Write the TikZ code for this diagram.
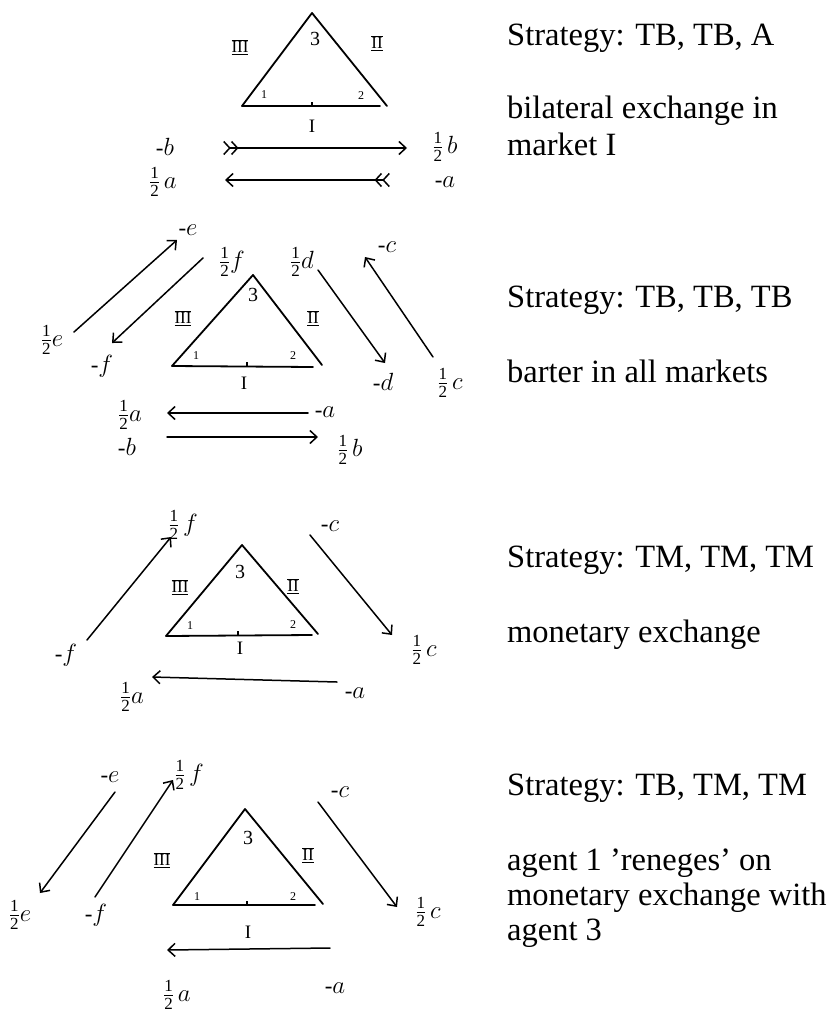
\documentclass[tikz,border=0pt]{standalone}
\usepackage{fontspec}
\setmainfont{Liberation Serif}
\usetikzlibrary{arrows.meta}
\newcommand\halfh{$\frac{\mbox{\fontsize{17}{17}\selectfont 1}}{\mbox{\fontsize{17}{17}\selectfont 2}}$}
\begin{document}
\begin{tikzpicture}[x=1pt,y=-1pt,
  tri/.style={line width=1.8pt, line join=round, line cap=round},
  tickmark/.style={line width=1.4pt},
  arr/.style={line width=1.5pt, line cap=round, -{Straight Barb[length=7pt,width=13pt]}},
  darr/.style={line width=1.5pt, line cap=round,
     {Straight Barb[reversed,length=6pt,width=13pt] Straight Barb[reversed,length=6pt,width=13pt]}-{Straight Barb[length=7pt,width=13pt]}},
  lab/.style={font=\fontsize{23}{25}\selectfont, inner sep=0pt},
  num/.style={font=\fontsize{20}{22}\selectfont, inner sep=0pt},
  sm/.style={font=\fontsize{12}{13}\selectfont, inner sep=0pt},
  rom/.style={font=\fontsize{17}{18}\selectfont, inner sep=0pt},
  bas/.style={font=\fontsize{19}{20}\selectfont, inner sep=0pt},
  txt/.style={font=\fontsize{32.5}{36}\selectfont, anchor=base west, inner sep=0pt}
]
\useasboundingbox (0,0) rectangle (833,1017);

% ---------------- Diagram 1 ----------------
\coordinate (t1a) at (312,13);
\coordinate (t1l) at (242,106);
\coordinate (t1r) at (387,106);
\coordinate (t1b) at (380,106);
\coordinate (t1m) at (312,106);
\draw[tri] (t1l) -- (t1a) -- (t1r);
\draw[tri] (t1l) -- (t1b);
\draw[tickmark] (t1m) -- ++(0,-4);
\node[num] (d1n3) at (315,39) {3};
\node[rom] (d1r3) at (240,47) {$\overline{\underline{\mathrm{III}}}$};
\node[rom] (d1r2) at (377,43) {$\overline{\underline{\mathrm{II}}}$};
\node[sm] (d1n1) at (264,95) {1};
\node[sm] (d1n2) at (361,96) {2};
\node[bas] (d1r1) at (312,126) {I};
\node[lab] (d1mb) at (165,147) {-$b$};
\node[lab] (d1hb) at (445,147) {\halfh\,$b$};
\node[lab] (d1ha) at (163,182) {\halfh\,$a$};
\node[lab] (d1ma) at (445,182) {-$a$};
\coordinate (d1p1) at (223,148);
\coordinate (d1q1) at (407,148);
\coordinate (d1p2) at (390,180);
\coordinate (d1q2) at (225,180);
\draw[darr] (d1p1) -- (d1q1);
\draw[darr] (d1p2) -- (d1q2);

\node[txt] (s1) at (507,45) {Strategy: TB, TB, A};
\node[txt] (s1b) at (507,118) {bilateral exchange in};
\node[txt] (s1c) at (507,155) {market I};

% ---------------- Diagram 2 ----------------
\coordinate (t2a) at (253,275);
\coordinate (t2l) at (172,366);
\coordinate (t2r) at (322,365);
\coordinate (t2b) at (313,367);
\coordinate (t2m) at (247,366);
\draw[tri] (t2l) -- (t2a) -- (t2r);
\draw[tri] (t2l) -- (t2b);
\draw[tickmark] (t2m) -- ++(0,-4);
\node[num] (d2n3) at (253,295) {3};
\node[rom] (d2r3) at (183,318) {$\overline{\underline{\mathrm{III}}}$};
\node[rom] (d2r2) at (313,318) {$\overline{\underline{\mathrm{II}}}$};
\node[sm] (d2n1) at (196,356) {1};
\node[sm] (d2n2) at (293,356) {2};
\node[bas] (d2r1) at (244,383) {I};

\node[lab] (d2he) at (52,340) {\halfh$e$};
\node[lab] (d2me) at (188,230) {-$e$};
\node[lab] (d2hf) at (232,262) {\halfh$f$};
\node[lab] (d2mf) at (102,366) {-$f$};
\node[lab] (d2hd) at (302,262) {\halfh$d$};
\node[lab] (d2md) at (383,382) {-$d$};
\node[lab] (d2hc) at (450,383) {\halfh\,$c$};
\node[lab] (d2mc) at (387,247) {-$c$};
\node[lab] (d2ha) at (130,415) {\halfh$a$};
\node[lab] (d2ma) at (325,412) {-$a$};
\node[lab] (d2mb) at (127,447) {-$b$};
\node[lab] (d2hb) at (350,450) {\halfh\,$b$};
\coordinate (d2e1) at (74,332);  \coordinate (d2e2) at (177,240);
\coordinate (d2f1) at (203,258); \coordinate (d2f2) at (112,343);
\coordinate (d2d1) at (318,270); \coordinate (d2d2) at (385,363);
\coordinate (d2c1) at (433,357); \coordinate (d2c2) at (365,257);
\coordinate (d2a1) at (308,413); \coordinate (d2a2) at (167,413);
\coordinate (d2b1) at (167,437); \coordinate (d2b2) at (318,437);
\draw[arr] (d2e1) -- (d2e2);
\draw[arr] (d2f1) -- (d2f2);
\draw[arr] (d2d1) -- (d2d2);
\draw[arr] (d2c1) -- (d2c2);
\draw[arr] (d2a1) -- (d2a2);
\draw[arr] (d2b1) -- (d2b2);

\node[txt] (s2) at (507,307) {Strategy: TB, TB, TB};
\node[txt] (s2b) at (507,382) {barter in all markets};

% ---------------- Diagram 3 ----------------
\coordinate (t3a) at (242,545);
\coordinate (t3l) at (166,636);
\coordinate (t3r) at (318,634);
\coordinate (t3b) at (312,635);
\coordinate (t3m) at (238,635);
\draw[tri] (t3l) -- (t3a) -- (t3r);
\draw[tri] (t3l) -- (t3b);
\draw[tickmark] (t3m) -- ++(0,-4);
\node[num] (d3n3) at (240,572) {3};
\node[rom] (d3r3) at (180,587) {$\overline{\underline{\mathrm{III}}}$};
\node[rom] (d3r2) at (293,586) {$\overline{\underline{\mathrm{II}}}$};
\node[sm] (d3n1) at (190,626) {1};
\node[sm] (d3n2) at (293,625) {2};
\node[bas] (d3r1) at (240,648) {I};

\node[lab] (d3mf) at (66,655) {-$f$};
\node[lab] (d3hf) at (183,525) {\halfh\,$f$};
\node[lab] (d3mc) at (330,526) {-$c$};
\node[lab] (d3hc) at (424,650) {\halfh\,$c$};
\node[lab] (d3ha) at (132,697) {\halfh$a$};
\node[lab] (d3ma) at (355,693) {-$a$};
\coordinate (d3f1) at (87,640);  \coordinate (d3f2) at (171,537);
\coordinate (d3c1) at (310,535); \coordinate (d3c2) at (392,635);
\coordinate (d3a1) at (337,682); \coordinate (d3a2) at (152,677);
\draw[arr] (d3f1) -- (d3f2);
\draw[arr] (d3c1) -- (d3c2);
\draw[arr] (d3a1) -- (d3a2);

\node[txt] (s3) at (507,567) {Strategy: TM, TM, TM};
\node[txt] (s3b) at (507,642) {monetary exchange};

% ---------------- Diagram 4 ----------------
\coordinate (t4a) at (245,809);
\coordinate (t4l) at (173,905);
\coordinate (t4r) at (323,904);
\coordinate (t4b) at (315,905);
\coordinate (t4m) at (247,905);
\draw[tri] (t4l) -- (t4a) -- (t4r);
\draw[tri] (t4l) -- (t4b);
\draw[tickmark] (t4m) -- ++(0,-4);
\node[num] (d4n3) at (248,838) {3};
\node[rom] (d4r3) at (162,860) {$\overline{\underline{\mathrm{III}}}$};
\node[rom] (d4r2) at (308,855) {$\overline{\underline{\mathrm{II}}}$};
\node[sm] (d4n1) at (197,897) {1};
\node[sm] (d4n2) at (293,897) {2};
\node[bas] (d4r1) at (248,932) {I};

\node[lab] (d4me) at (110,777) {-$e$};
\node[lab] (d4he) at (20,915) {\halfh$e$};
\node[lab] (d4mf) at (96,915) {-$f$};
\node[lab] (d4hf) at (189,775) {\halfh\,$f$};
\node[lab] (d4mc) at (340,792) {-$c$};
\node[lab] (d4hc) at (428,912) {\halfh\,$c$};
\node[lab] (d4ha) at (177,995) {\halfh\,$a$};
\node[lab] (d4ma) at (335,988) {-$a$};
\coordinate (d4e1) at (115,792); \coordinate (d4e2) at (40,893);
\coordinate (d4f1) at (95,897);  \coordinate (d4f2) at (173,780);
\coordinate (d4c1) at (318,802); \coordinate (d4c2) at (397,907);
\coordinate (d4a1) at (330,948); \coordinate (d4a2) at (167,950);
\draw[arr] (d4e1) -- (d4e2);
\draw[arr] (d4f1) -- (d4f2);
\draw[arr] (d4c1) -- (d4c2);
\draw[arr] (d4a1) -- (d4a2);

\node[txt] (s4) at (507,795) {Strategy: TB, TM, TM};
\node[txt] (s4b) at (507,870) {agent 1 ’reneges’ on};
\node[txt] (s4c) at (507,905) {monetary exchange with};
\node[txt] (s4d) at (507,940) {agent 3};
\end{tikzpicture}
\end{document}
